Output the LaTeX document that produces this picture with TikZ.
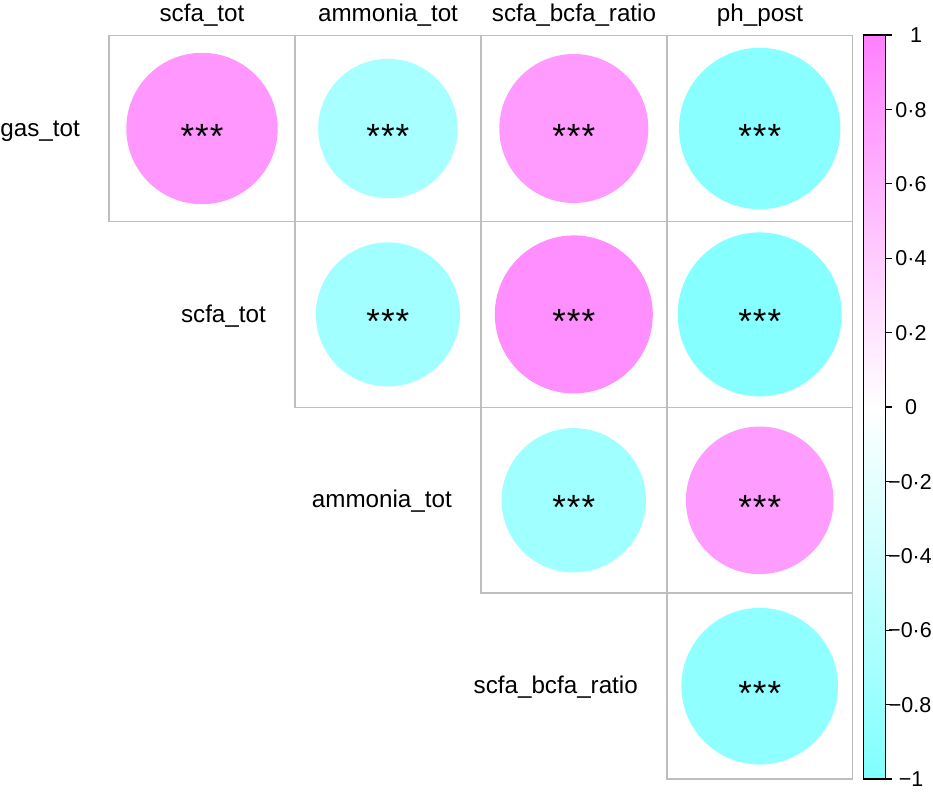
\documentclass[tikz,border=0pt]{standalone}
\usepackage{fontspec}
\setmainfont{Liberation Sans}
\definecolor{pinkend}{RGB}{255,128,255}
\definecolor{cyanend}{RGB}{128,255,255}
\definecolor{gridgray}{RGB}{190,190,190}
\begin{document}
\begin{tikzpicture}[x=1pt,y=-1pt,
  cellbox/.style={draw=gridgray,line width=1.6pt},
  corrdot/.style={circle,inner sep=0pt,draw=none},
  stars/.style={anchor=base,inner sep=0pt,font=\fontsize{35}{40}\selectfont},
  lbl/.style={inner sep=0pt,font=\fontsize{24.2}{29}\selectfont},
  ticklbl/.style={inner sep=0pt,anchor=base,font=\fontsize{21.5}{26}\selectfont}]
\useasboundingbox (0,0) rectangle (933,793);
\fill[white] (0,0) rectangle (933,793);
% grid cells (upper triangle)
\foreach \i in {0,...,3}{
  \foreach \j in {\i,...,3}{
    \draw[cellbox] ({109+185.9*\j},{35.5+185.9*\i}) rectangle ({109+185.9*(\j+1)},{35.5+185.9*(\i+1)});
  }
}
% circles: row, col, radius, colour
\foreach \i/\j/\r/\c/\n in {
  0/0/75.7/pinkend!82!white/a,
  0/1/69.7/cyanend!69!white/b,
  0/2/74.5/pinkend!79!white/c,
  0/3/80.7/cyanend!93!white/d,
  1/1/72.0/cyanend!74!white/e,
  1/2/79.0/pinkend!89!white/f,
  1/3/82.0/cyanend!96!white/g,
  2/2/72.2/cyanend!75!white/h,
  2/3/73.8/pinkend!78!white/k,
  3/3/78.3/cyanend!88!white/m}{
  \node[corrdot,fill=\c,minimum size={2*\r}] (c\n) at ({202+185.9*\j},{128.5+185.9*\i}) {};
  \node[stars] (s\n) at ({202+185.9*\j},{148+185.9*\i}) {*\kern1pt*\kern1pt*};
}
% column headers
\node[lbl,anchor=base] (h1) at (202,21.5) {scfa\_tot};
\node[lbl,anchor=base] (h2) at (388,21.5) {ammonia\_tot};
\node[lbl,anchor=base] (h3) at (574,21.5) {scfa\_bcfa\_ratio};
\node[lbl,anchor=base] (h4) at (760,21.5) {ph\_post};
% row labels
\node[lbl,anchor=base east] (r1) at (80,136) {gas\_tot};
\node[lbl,anchor=base east] (r2) at (266,322) {scfa\_tot};
\node[lbl,anchor=base east] (r3) at (452,507.5) {ammonia\_tot};
\node[lbl,anchor=base east] (r4) at (638,693.5) {scfa\_bcfa\_ratio};
% colour bar
\shade[top color=pinkend,bottom color=white] (863.5,35) rectangle (885.5,407);
\shade[top color=white,bottom color=cyanend] (863.5,407) rectangle (885.5,779);
\draw[black,line width=1.2pt] (863.5,35) rectangle (885.5,779);
\foreach \k/\t/\xx in {0/1/916,1/0·8/911,2/0·6/911,3/0·4/911,4/0·2/911,5/0/911,6/−0·2/910,7/−0·4/910,8/−0·6/910,9/−0.8/910,10/−1/911}{
  \draw[black,line width=1.2pt] (885.5,{35+74.4*\k}) -- (891.5,{35+74.4*\k});
  \node[ticklbl] (t\k) at (\xx,{35+74.4*\k+7.7}) {\t};
}
\end{tikzpicture}
\end{document}
